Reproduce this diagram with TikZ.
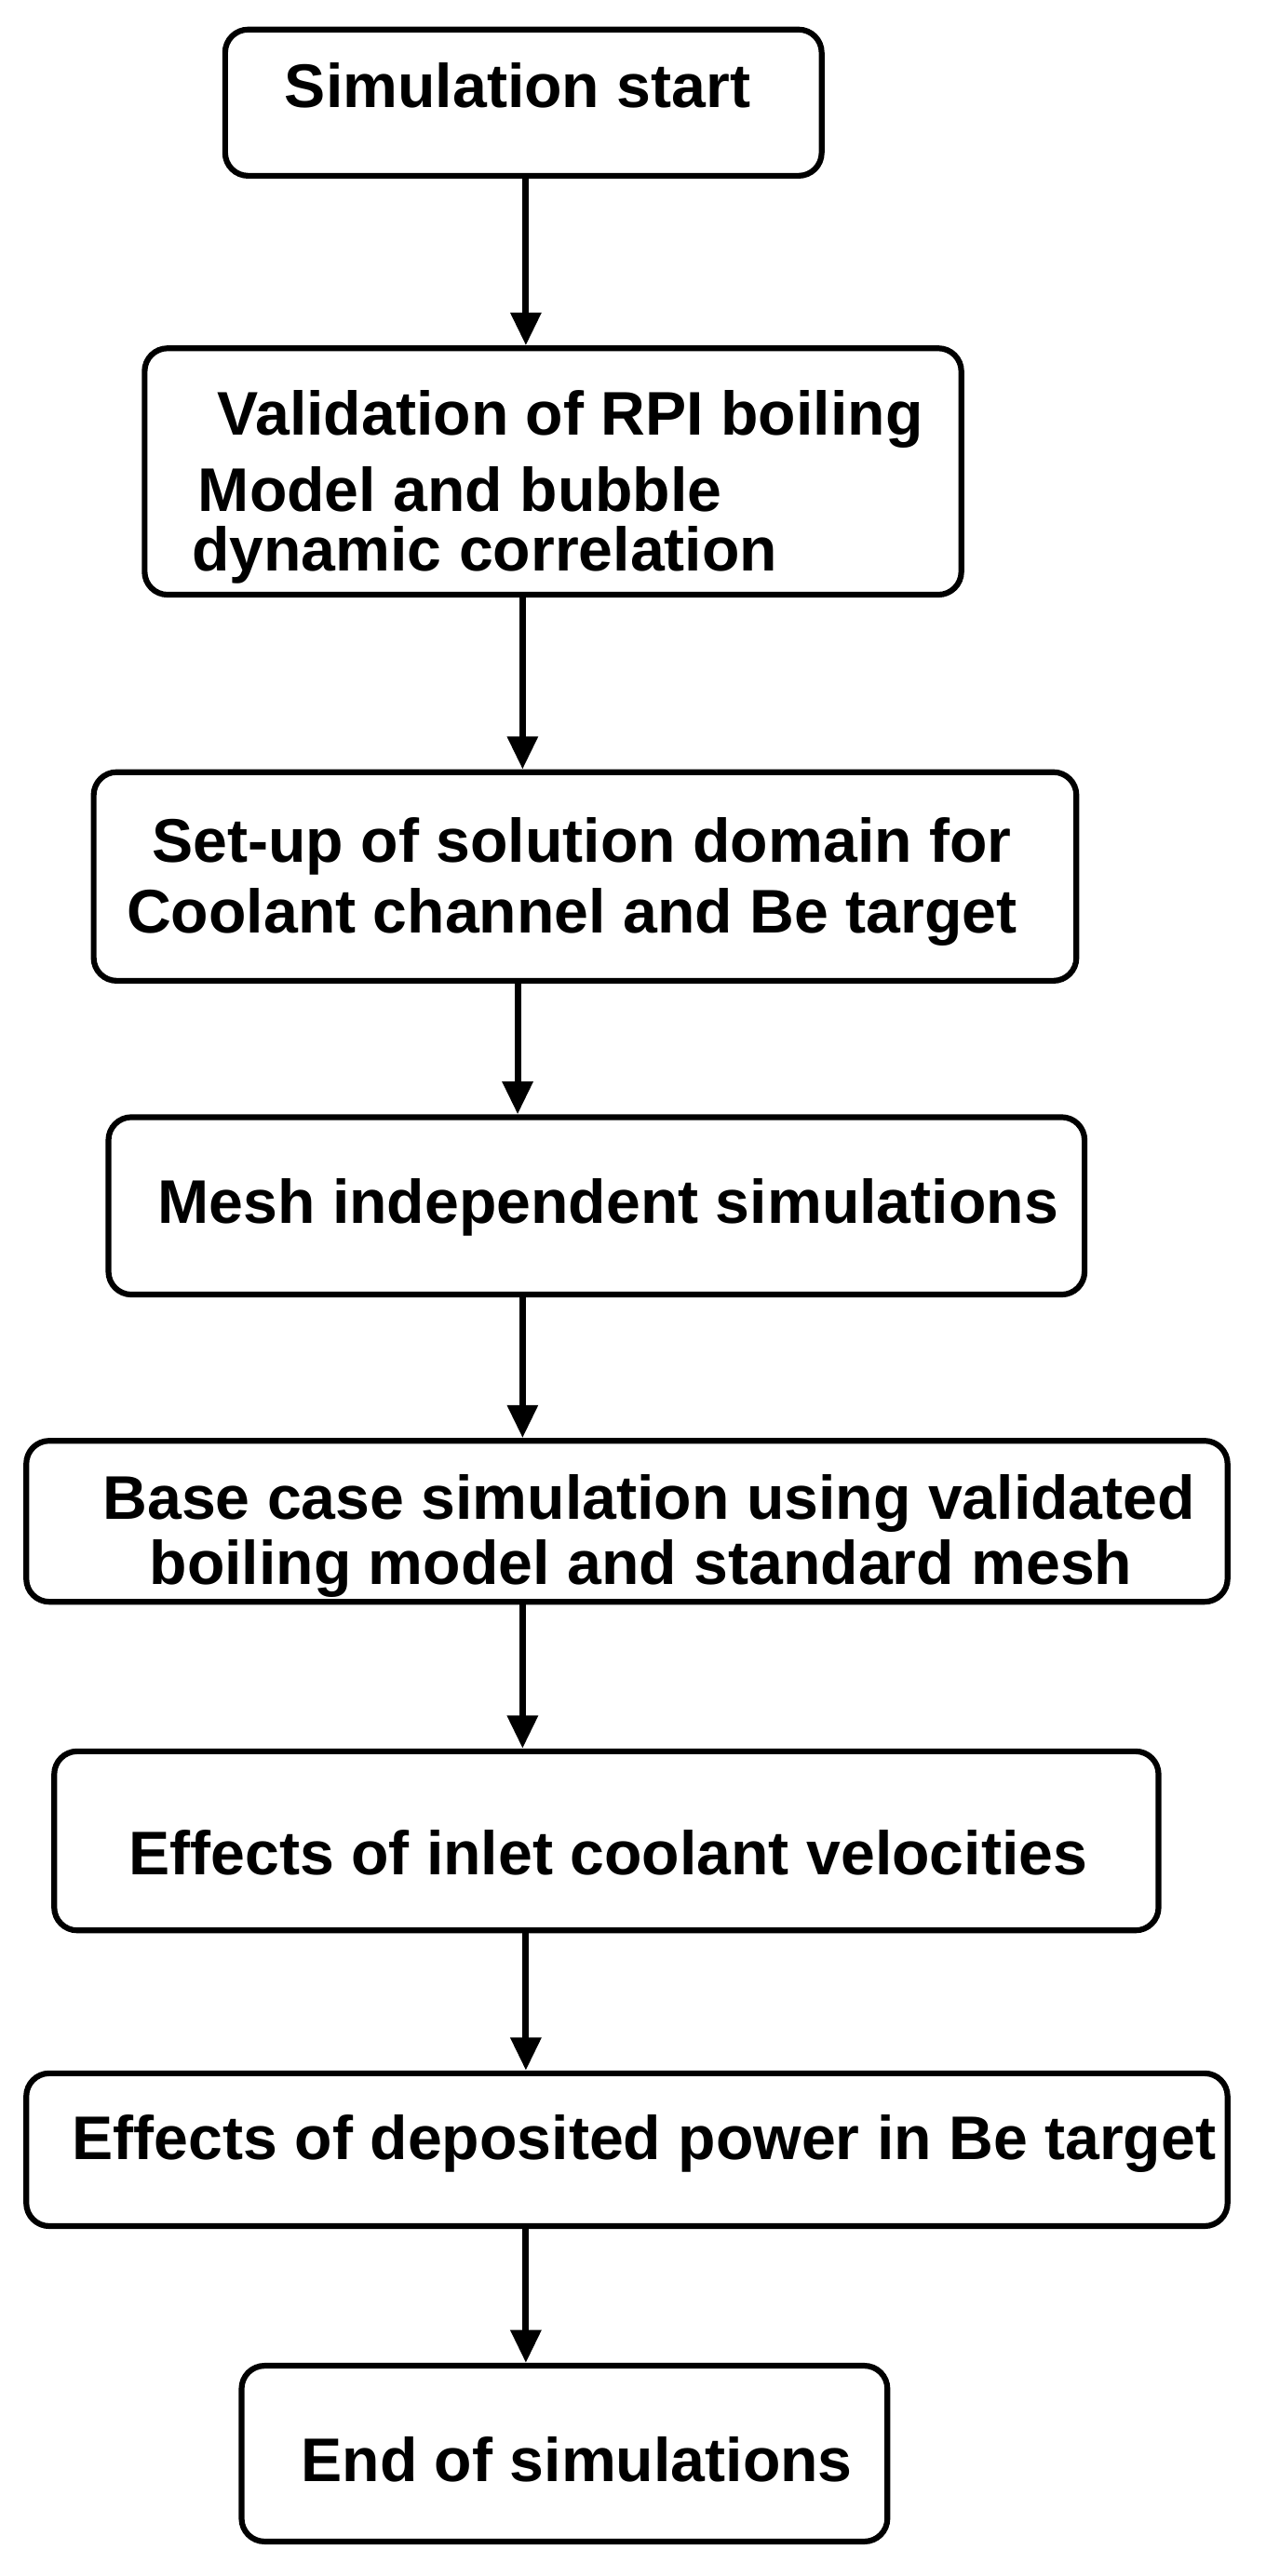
\documentclass[tikz,border=0pt]{standalone}
\usepackage{fontspec}
\setmainfont{Liberation Sans}
\usetikzlibrary{arrows.meta}
\begin{document}
\begin{tikzpicture}[x=1pt,y=-1pt,
 box/.style={draw,line width=3.5pt,rounded corners=14pt,inner sep=0pt},
 txt/.style={font=\fontsize{37.5}{45}\selectfont\bfseries,align=left,inner sep=0pt,anchor=center},
 arr/.style={line width=4pt,-{Triangle[length=20pt,width=18pt]}}]
\useasboundingbox (0,0) rectangle (770,1568);
\newcommand{\bx}[5]{\node[box,minimum width=#4-#2,minimum height=#5-#3] (#1) at ({(#2+#4)/2},{(#3+#5)/2}) {};}
\bx{b1}{137}{18}{500}{107}
\bx{b2}{88}{212}{585}{362}
\bx{b3}{57}{470}{655}{597}
\bx{b4}{66}{680}{660}{788}
\bx{b5}{16}{877}{747}{975}
\bx{b6}{33}{1066}{705}{1175}
\bx{b7}{16}{1262}{747}{1355}
\bx{b8}{147}{1440}{540}{1547}
\node[txt] (t1) at (315,52) {Simulation start};
\node[txt] (t2a) at (347,255) {Validation of RPI boiling};
\node[txt] (t2b) at (280,298) {Model and bubble};
\node[txt] (t2c) at (295,338) {dynamic correlation};
\node[txt] (t3a) at (354,515) {Set-up of solution domain for};
\node[txt] (t3b) at (348,558) {Coolant channel and Be target};
\node[txt] (t4) at (370,735) {Mesh independent simulations};
\node[txt] (t5a) at (395,915) {Base case simulation using validated};
\node[txt] (t5b) at (390,955) {boiling model and standard mesh};
\node[txt] (t6) at (370,1128) {Effects of inlet coolant velocities};
\node[txt] (t7) at (392,1305) {Effects of deposited power in Be target};
\node[txt] (t8) at (351,1497) {End of simulations};
\draw[arr] (b1.south -| 320,0) -- (b2.north -| 320,0);
\draw[arr] (b2.south -| 318,0) -- (b3.north -| 318,0);
\draw[arr] (b3.south -| 315,0) -- (b4.north -| 315,0);
\draw[arr] (b4.south -| 318,0) -- (b5.north -| 318,0);
\draw[arr] (b5.south -| 318,0) -- (b6.north -| 318,0);
\draw[arr] (b6.south -| 320,0) -- (b7.north -| 320,0);
\draw[arr] (b7.south -| 320,0) -- (b8.north -| 320,0);
\end{tikzpicture}
\end{document}
